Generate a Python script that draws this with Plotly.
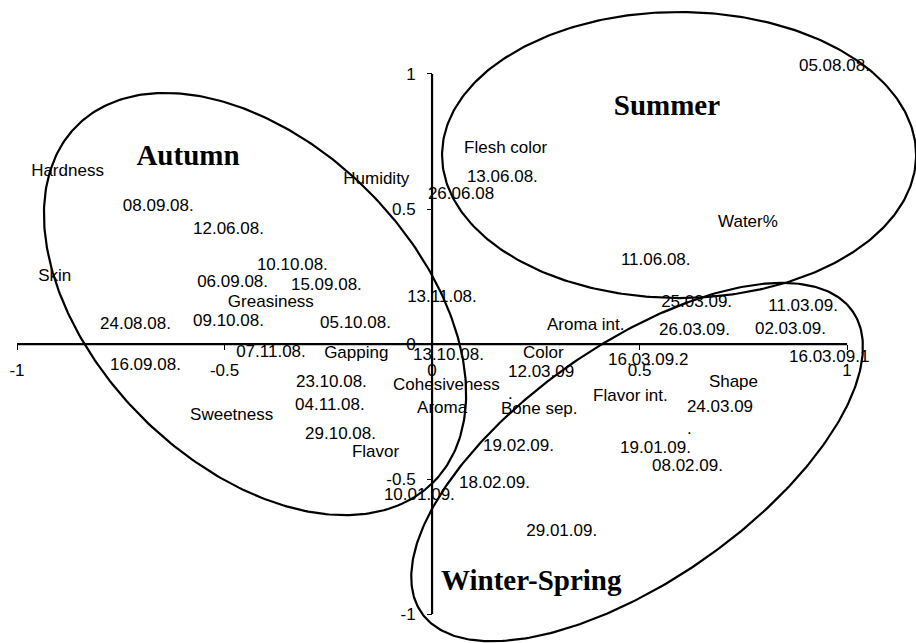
import numpy as np
import plotly.graph_objects as go

# ---------------- data ----------------
# Variables (attributes) of the biplot
var_labels = ["Hardness", "Humidity", "Skin", "Greasiness", "Gapping", "Cohesiveness",
              "Aroma", "Sweetness", "Flavor", "Color", "Shape", "Flavor int.",
              "Bone sep.", "Flesh color", "Water%", "Aroma int."]
var_x = [-0.966, -0.214, -0.949, -0.492, -0.260, -0.094, -0.036, -0.583, -0.193,
         0.219, 0.667, 0.388, 0.166, 0.077, 0.689, 0.277]
var_y = [0.637, 0.607, 0.248, 0.152, -0.037, -0.156, -0.241, -0.267, -0.404,
         -0.037, -0.144, -0.196, -0.244, 0.722, 0.448, 0.067]

# Samples (dates)
sample_labels = ["08.09.08.", "12.06.08.", "10.10.08.", "06.09.08.", "15.09.08.",
                 "24.08.08.", "09.10.08.", "05.10.08.", "13.11.08.", "16.09.08.",
                 "07.11.08.", "13.10.08.", "23.10.08.", "04.11.08.", "29.10.08.",
                 "10.01.09.", "12.03.09<br>.", "16.03.09.2", "16.03.09.1", "24.03.09<br>.",
                 "19.02.09.", "19.01.09.", "08.02.09.", "18.02.09.", "29.01.09.",
                 "13.06.08.", "26.06.08", "11.06.08.", "25.03.09.", "11.03.09.",
                 "26.03.09.", "02.03.09.", "05.08.08."]
sample_x = [-0.745, -0.576, -0.422, -0.566, -0.340, -0.800, -0.576, -0.270, -0.060,
            -0.776, -0.472, -0.046, -0.328, -0.330, -0.306, -0.116, 0.183, 0.424,
            0.860, 0.614, 0.123, 0.453, 0.530, 0.065, 0.227, 0.084, -0.010, 0.455,
            0.552, 0.810, 0.547, 0.778, 0.884]
sample_y = [0.507, 0.422, 0.289, 0.226, 0.215, 0.070, 0.081, 0.074, 0.170, -0.081,
            -0.033, -0.044, -0.144, -0.230, -0.337, -0.563, -0.148, -0.063, -0.052,
            -0.278, -0.381, -0.389, -0.456, -0.519, -0.696, 0.615, 0.552, 0.307,
            0.152, 0.137, 0.048, 0.052, 1.026]

# Season groups: title position and enclosing ellipse (centre + two conjugate semi-axes)
season_names = ["Autumn", "Summer", "Winter-Spring"]
season_x = [-0.588, 0.566, 0.239]
season_y = [0.689, 0.874, -0.885]
ell_cx = [-0.4265, 0.5952, 0.4940]
ell_cy = [0.1481, 0.7000, -0.4370]
ell_ax = [0.4294, 0.5711, 0.5191]
ell_ay = [-0.6600, 0.0, 0.5587]
ell_bx = [-0.2726, 0.0, 0.1631]
ell_by = [-0.4190, 0.5296, -0.3580]

# Axes
tick_vals = [-1, -0.5, 0, 0.5, 1]
axis_limits = [-1, 1]
x_view = [-1.041, 1.166]
y_view = [-1.107, 1.274]

# ---------------- figure ----------------
FONT = "Arial, 'Liberation Sans', sans-serif"
SERIF = "'Times New Roman', 'Liberation Serif', serif"

fig = go.Figure()

# axis lines through the origin
fig.add_trace(go.Scatter(x=axis_limits, y=[0, 0], mode="lines",
                         line=dict(color="black", width=2.2), hoverinfo="skip", showlegend=False))
fig.add_trace(go.Scatter(x=[0, 0], y=axis_limits, mode="lines",
                         line=dict(color="black", width=2.2), hoverinfo="skip", showlegend=False))

# ellipses
t = np.linspace(0, 2 * np.pi, 361)
for i in range(len(season_names)):
    ex = ell_cx[i] + ell_ax[i] * np.cos(t) + ell_bx[i] * np.sin(t)
    ey = ell_cy[i] + ell_ay[i] * np.cos(t) + ell_by[i] * np.sin(t)
    fig.add_trace(go.Scatter(x=ex, y=ey, mode="lines",
                             line=dict(color="black", width=2.2),
                             hoverinfo="skip", showlegend=False))

# labels
fig.add_trace(go.Scatter(x=var_x, y=var_y, text=var_labels, mode="text",
                         textposition="middle right", cliponaxis=False,
                         textfont=dict(family=FONT, size=17, color="black"),
                         hoverinfo="text", showlegend=False))
fig.add_trace(go.Scatter(x=sample_x, y=sample_y, text=sample_labels, mode="text",
                         textposition="middle right", cliponaxis=False,
                         textfont=dict(family=FONT, size=17, color="black"),
                         hoverinfo="text", showlegend=False))
fig.add_trace(go.Scatter(x=season_x, y=season_y, text=["<b>%s</b>" % s for s in season_names],
                         mode="text", textposition="middle center", cliponaxis=False,
                         textfont=dict(family=SERIF, size=29, color="black"),
                         hoverinfo="skip", showlegend=False))

x_pos = (0 - x_view[0]) / (x_view[1] - x_view[0])
y_pos = (0 - y_view[0]) / (y_view[1] - y_view[0])

fig.update_layout(
    width=916, height=643,
    margin=dict(l=0, r=0, t=0, b=0, pad=0),
    paper_bgcolor="white", plot_bgcolor="white",
    font=dict(family=FONT, size=17, color="black"),
    xaxis=dict(range=x_view, anchor="free", position=y_pos, side="bottom",
               tickvals=tick_vals, ticktext=[str(v) for v in tick_vals],
               ticks="outside", ticklen=5, tickwidth=1, tickcolor="black",
               showgrid=False, zeroline=False, showline=False,
               tickfont=dict(family=FONT, size=17, color="black"),
               ticklabelstandoff=6, automargin=False, fixedrange=True),
    yaxis=dict(range=y_view, anchor="free", position=x_pos, side="left",
               tickvals=tick_vals, ticktext=[str(v) for v in tick_vals],
               ticks="outside", ticklen=5, tickwidth=1, tickcolor="black",
               showgrid=False, zeroline=False, showline=False,
               tickfont=dict(family=FONT, size=17, color="black"),
               ticklabelstandoff=8, automargin=False, fixedrange=True),
    showlegend=False,
)

fig.write_html(
    "out.html",
    config={"displayModeBar": False},
    post_script="document.body.style.margin='0px';document.body.style.overflow='hidden';",
)
